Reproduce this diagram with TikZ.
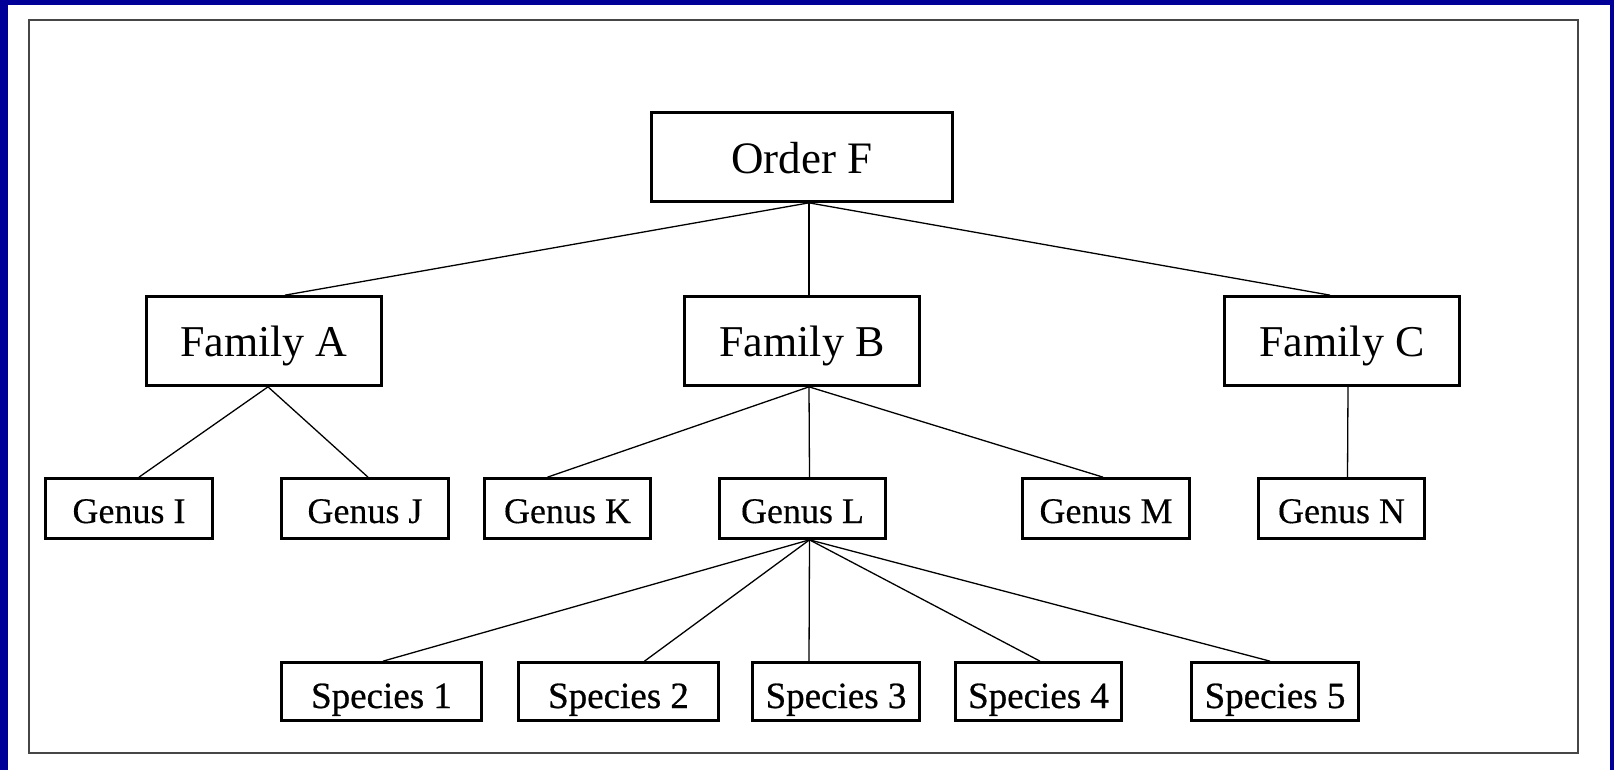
\documentclass[tikz,border=0pt]{standalone}
\usepackage{fontspec}
\setmainfont{Liberation Serif}
\newfontfamily\spfont[RawFeature={embolden=0.7}]{Liberation Serif}
\newfontfamily\gnfont[RawFeature={embolden=0.3}]{Liberation Serif}
\definecolor{pptblue}{RGB}{0,0,153}
\definecolor{framegray}{RGB}{70,70,70}
\tikzset{
  box/.style={draw=black, line width=2.7pt, fill=white, inner sep=0pt, rectangle},
  bigbox/.style={box, minimum width=235pt, minimum height=89pt, text height=30pt, text depth=0pt, font=\fontsize{44}{50}\selectfont},
  orderbox/.style={box, minimum width=301pt, minimum height=89pt, text height=34pt, text depth=0pt, font=\fontsize{45}{50}\selectfont},
  genbox/.style={box, minimum height=60pt, text height=29pt, text depth=0pt, font=\gnfont\fontsize{36}{40}\selectfont},
  spbox/.style={box, minimum height=58pt, text height=33pt, text depth=0pt, font=\spfont\fontsize{37}{40}\selectfont},
  link/.style={draw=black, line width=1.3pt}
}
\begin{document}
\begin{tikzpicture}[x=1pt, y=-1pt]
\useasboundingbox (0,0) rectangle (1614,770);
\fill[white] (0,0) rectangle (1614,770);
\fill[pptblue] (0,0) rectangle (8,770);
\fill[pptblue] (0,0) rectangle (1614,5);
\fill[pptblue] (1610,0) rectangle (1614,770);
\draw[framegray, line width=2pt] (29,20) rectangle (1578,753);

\node[orderbox] (order) at (802,157) {Order F};

\node[bigbox] (famA) at (264,341) {Family A};
\node[bigbox] (famB) at (802,341) {Family B};
\node[bigbox] (famC) at (1342,341) {Family C};

\node[genbox, minimum width=167pt] (gI) at (129,508.5) {Genus I};
\node[genbox, minimum width=167pt] (gJ) at (365,508.5) {Genus J};
\node[genbox, minimum width=166pt] (gK) at (567.5,508.5) {Genus K};
\node[genbox, minimum width=166pt] (gL) at (802.5,508.5) {Genus L};
\node[genbox, minimum width=167pt] (gM) at (1106,508.5) {Genus M};
\node[genbox, minimum width=166pt] (gN) at (1341.5,508.5) {Genus N};

\node[spbox, minimum width=200pt] (s1) at (381.5,691.5) {Species 1};
\node[spbox, minimum width=200pt] (s2) at (618.5,691.5) {Species 2};
\node[spbox, minimum width=167pt] (s3) at (836,691.5) {Species 3};
\node[spbox, minimum width=166pt] (s4) at (1038.5,691.5) {Species 4};
\node[spbox, minimum width=167pt] (s5) at (1275,691.5) {Species 5};

\draw[link] ([xshift=7pt]order.south) -- ([xshift=21pt]famA.north);
\draw[link] ([xshift=7pt]order.south) -- ([xshift=7pt]famB.north);
\draw[link] ([xshift=7pt]order.south) -- ([xshift=-12pt]famC.north);

\draw[link] ([xshift=4pt]famA.south) -- ([xshift=10pt]gI.north);
\draw[link] ([xshift=4pt]famA.south) -- ([xshift=3pt]gJ.north);

\draw[link] ([xshift=7pt]famB.south) -- ([xshift=-20pt]gK.north);
\draw[link] ([xshift=7pt]famB.south) -- ([xshift=7pt]gL.north);
\draw[link] ([xshift=7pt]famB.south) -- ([xshift=-3pt]gM.north);

\draw[link] ([xshift=6pt]famC.south) -- ([xshift=6pt]gN.north);

\draw[link] ([xshift=7pt]gL.south) -- ([xshift=1.5pt]s1.north);
\draw[link] ([xshift=7pt]gL.south) -- ([xshift=26pt]s2.north);
\draw[link] ([xshift=7pt]gL.south) -- ([xshift=-27pt]s3.north);
\draw[link] ([xshift=7pt]gL.south) -- ([xshift=1.5pt]s4.north);
\draw[link] ([xshift=7pt]gL.south) -- ([xshift=-5pt]s5.north);
\end{tikzpicture}
\end{document}
